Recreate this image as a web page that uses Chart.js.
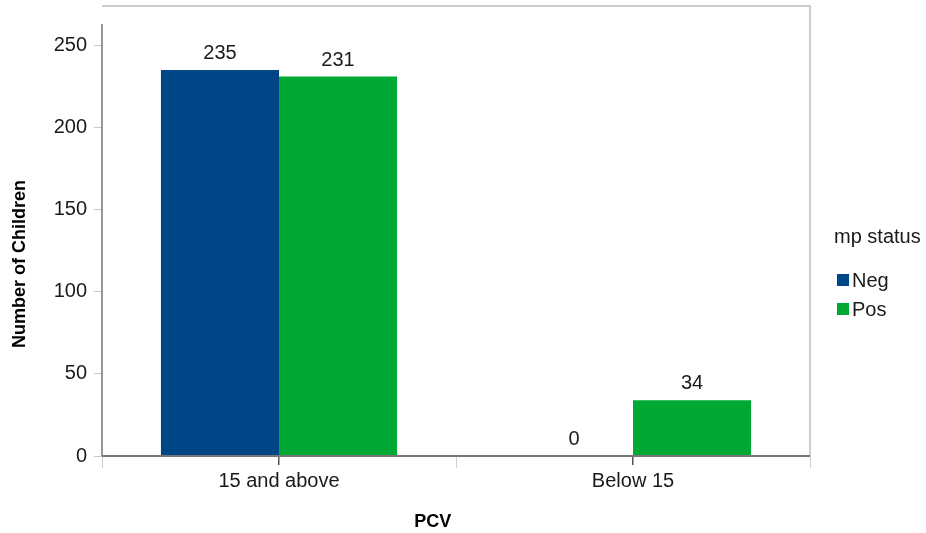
<!DOCTYPE html>
<html>
<head>
<meta charset="utf-8">
<script src="https://cdn.jsdelivr.net/npm/chart.js@4"></script>
<style>
html,body{margin:0;padding:0;background:#fff;}
#wrap{width:926px;height:533px;}
</style>
</head>
<body>
<div id="wrap"><canvas id="c" width="926" height="533"></canvas></div>
<script>
const categories = ["15 and above", "Below 15"];
const negValues = [235, 0];
const posValues = [231, 34];
const seriesNames = ["Neg", "Pos"];
const seriesColors = ["#004586", "#00a933"];
const yTicks = [0, 50, 100, 150, 200, 250];
const xTitle = "PCV";
const yTitle = "Number of Children";
const legendTitle = "mp status";

const FONT = "'Liberation Sans', Arial, sans-serif";

const decor = {
  id: 'decor',
  beforeDatasetsDraw(chart) {
    const ctx = chart.ctx, a = chart.chartArea;
    ctx.save();
    // frame
    ctx.strokeStyle = '#bdbdbd';
    ctx.lineWidth = 1.5;
    ctx.beginPath();
    ctx.moveTo(a.left, a.top);
    ctx.lineTo(a.right, a.top);
    ctx.lineTo(a.right, a.bottom);
    ctx.stroke();
    // category boundary light ticks
    const xs = chart.scales.x;
    ctx.strokeStyle = '#d0d0d0';
    ctx.lineWidth = 1;
    for (let i = 0; i <= categories.length; i++) {
      const px = Math.round(xs.getPixelForValue(i - 0.5)) + 0.5;
      ctx.beginPath();
      ctx.moveTo(px, a.bottom);
      ctx.lineTo(px, a.bottom + 12);
      ctx.stroke();
    }
    // left axis line
    const ys = chart.scales.y;
    ctx.strokeStyle = '#777';
    ctx.lineWidth = 1.5;
    ctx.beginPath();
    ctx.moveTo(a.left, ys.getPixelForValue(263));
    ctx.lineTo(a.left, a.bottom);
    ctx.stroke();
    ctx.restore();
  },
  afterDatasetsDraw(chart) {
    const ctx = chart.ctx, a = chart.chartArea;
    ctx.save();
    // bottom axis line
    ctx.strokeStyle = '#777';
    ctx.lineWidth = 2;
    ctx.beginPath();
    ctx.moveTo(a.left, a.bottom);
    ctx.lineTo(a.right, a.bottom);
    ctx.stroke();
    // data labels
    ctx.fillStyle = '#1a1a1a';
    ctx.font = '20px ' + FONT;
    ctx.textAlign = 'center';
    ctx.textBaseline = 'alphabetic';
    chart.data.datasets.forEach((ds, di) => {
      const meta = chart.getDatasetMeta(di);
      meta.data.forEach((bar, i) => {
        ctx.fillText(String(ds.data[i]), bar.x, bar.y - 11);
      });
    });
    // axis titles
    ctx.font = 'bold 18px ' + FONT;
    ctx.fillStyle = '#000';
    ctx.textBaseline = 'middle';
    ctx.fillText(xTitle, a.left + (a.right - a.left) * 0.467, 522);
    ctx.save();
    ctx.translate(20, 264);
    ctx.rotate(-Math.PI / 2);
    ctx.fillText(yTitle, 0, 0);
    ctx.restore();
    // legend
    ctx.textAlign = 'left';
    ctx.font = '20px ' + FONT;
    ctx.fillStyle = '#1a1a1a';
    ctx.fillText(legendTitle, 834, 237);
    chart.data.datasets.forEach((ds, di) => {
      const cy = 280 + di * 29;
      ctx.fillStyle = ds.backgroundColor;
      ctx.fillRect(837, cy - 6, 12, 12);
      ctx.fillStyle = '#1a1a1a';
      ctx.fillText(ds.label, 852, cy + 1);
    });
    ctx.restore();
  }
};

new Chart(document.getElementById('c'), {
  type: 'bar',
  data: {
    labels: categories,
    datasets: [
      { label: seriesNames[0], data: negValues, backgroundColor: seriesColors[0], borderWidth: 0 },
      { label: seriesNames[1], data: posValues, backgroundColor: seriesColors[1], borderWidth: 0 }
    ]
  },
  options: {
    responsive: false,
    animation: false,
    devicePixelRatio: 1,
    layout: { padding: { top: 6, right: 116, left: 0, bottom: 0 } },
    plugins: { legend: { display: false }, tooltip: { enabled: false } },
    datasets: { bar: { categoryPercentage: 0.667, barPercentage: 1.0 } },
    scales: {
      x: {
        afterFit(s) { s.height = 77; s.paddingLeft = 0; s.paddingRight = 0; },
        border: { display: false },
        grid: { drawOnChartArea: false, offset: false, color: '#555', lineWidth: 1.5, tickLength: 9 },
        ticks: { color: '#1a1a1a', font: { size: 20, family: FONT }, padding: 4 }
      },
      y: {
        min: 0,
        max: 274,
        afterFit(s) { s.width = 102; s.paddingTop = 0; s.paddingBottom = 0; },
        afterBuildTicks(s) { s.ticks = yTicks.map(v => ({ value: v })); },
        border: { display: false },
        grid: { drawOnChartArea: false, color: '#c8c8c8', lineWidth: 1, tickLength: 8 },
        ticks: { color: '#1a1a1a', font: { size: 20, family: FONT }, padding: 7 }
      }
    }
  },
  plugins: [decor]
});
</script>
</body>
</html>
